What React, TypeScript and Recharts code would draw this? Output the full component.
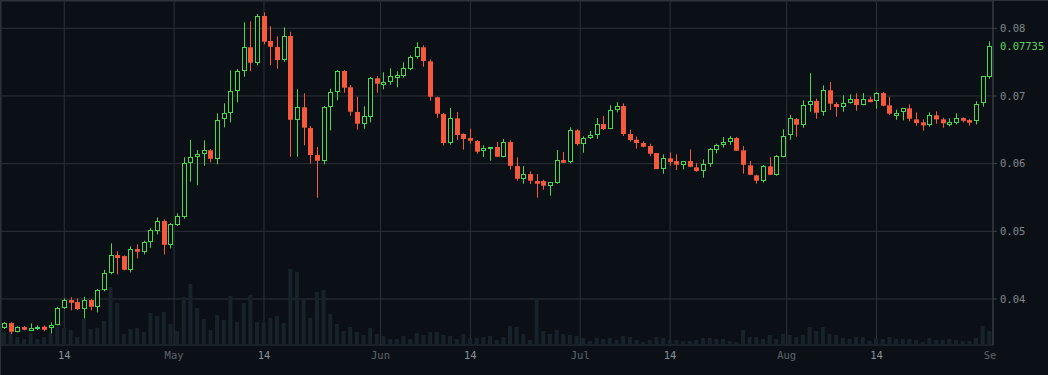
import { ComposedChart, Bar, XAxis, YAxis, CartesianGrid, ReferenceLine } from 'recharts';

// daily candles, Apr 5 .. Aug 31
const opens = [
  0.03566, 0.03644, 0.03516, 0.03585, 0.03530, 0.03551, 0.03590, 0.03575, 0.03619, 0.03870,
  0.03984, 0.03954, 0.03855, 0.03984, 0.03885, 0.04137, 0.04387, 0.04649, 0.04634, 0.04431,
  0.04738, 0.04698, 0.04846, 0.05009, 0.05152, 0.04801, 0.05097, 0.05215, 0.06013, 0.06093,
  0.06137, 0.06197, 0.06072, 0.06654, 0.06743, 0.07077, 0.07373, 0.07719, 0.07491, 0.08182,
  0.07812, 0.07723, 0.07531, 0.07886, 0.06648, 0.06832, 0.06526, 0.06127, 0.06043, 0.06832,
  0.07063, 0.07369, 0.07128, 0.06763, 0.06590, 0.06693, 0.07261, 0.07166, 0.07211, 0.07270,
  0.07299, 0.07403, 0.07580, 0.07719, 0.07512, 0.06980, 0.06733, 0.06309, 0.06669, 0.06438,
  0.06378, 0.06334, 0.06182, 0.06211, 0.06246, 0.06102, 0.06319, 0.05964, 0.05777, 0.05846,
  0.05743, 0.05743, 0.05674, 0.05718, 0.06053, 0.06028, 0.06492, 0.06294, 0.06383, 0.06428,
  0.06585, 0.06516, 0.06792, 0.06851, 0.06438, 0.06353, 0.06305, 0.06260, 0.06157, 0.05925,
  0.06078, 0.06038, 0.05984, 0.06038, 0.05945, 0.05895, 0.05999, 0.06206, 0.06279, 0.06324,
  0.06378, 0.06197, 0.05975, 0.05827, 0.05748, 0.05959, 0.05836, 0.06105, 0.06418, 0.06659,
  0.06575, 0.06871, 0.06925, 0.06758, 0.07084, 0.06881, 0.06842, 0.06900, 0.06955, 0.06871,
  0.06950, 0.06930, 0.07043, 0.06862, 0.06708, 0.06758, 0.06817, 0.06654, 0.06610, 0.06575,
  0.06714, 0.06654, 0.06575, 0.06605, 0.06674, 0.06644, 0.06625, 0.06891, 0.07285,
];
const highs = [
  0.03658, 0.03658, 0.03596, 0.03600, 0.03639, 0.03610, 0.03610, 0.03654, 0.03885, 0.04009,
  0.04024, 0.04009, 0.04033, 0.03999, 0.04147, 0.04431, 0.04822, 0.04704, 0.04644, 0.04778,
  0.04808, 0.04861, 0.05048, 0.05206, 0.05177, 0.05122, 0.05265, 0.06093, 0.06349, 0.06201,
  0.06345, 0.06216, 0.06743, 0.06891, 0.07379, 0.07398, 0.08088, 0.08103, 0.08211, 0.08236,
  0.08029, 0.07881, 0.08014, 0.07949, 0.07098, 0.07039, 0.06556, 0.06246, 0.06851, 0.07107,
  0.07383, 0.07383, 0.07162, 0.06990, 0.06847, 0.07280, 0.07295, 0.07349, 0.07409, 0.07364,
  0.07497, 0.07601, 0.07793, 0.07748, 0.07541, 0.06990, 0.06748, 0.06822, 0.06763, 0.06448,
  0.06516, 0.06349, 0.06271, 0.06246, 0.06319, 0.06364, 0.06345, 0.06093, 0.05964, 0.05886,
  0.05846, 0.05762, 0.05723, 0.06201, 0.06172, 0.06536, 0.06507, 0.06403, 0.06482, 0.06674,
  0.06703, 0.06862, 0.06906, 0.06891, 0.06501, 0.06398, 0.06329, 0.06294, 0.06157, 0.06137,
  0.06167, 0.06137, 0.06034, 0.06211, 0.06009, 0.06063, 0.06230, 0.06294, 0.06393, 0.06408,
  0.06393, 0.06260, 0.06038, 0.05836, 0.05979, 0.06093, 0.06127, 0.06507, 0.06718, 0.06674,
  0.06936, 0.07335, 0.06960, 0.07157, 0.07206, 0.06910, 0.07009, 0.07024, 0.07039, 0.07043,
  0.06990, 0.07058, 0.07058, 0.06989, 0.06797, 0.06817, 0.06876, 0.06758, 0.06654, 0.06758,
  0.06773, 0.06678, 0.06669, 0.06743, 0.06684, 0.06659, 0.06921, 0.07290, 0.07808,
];
const lows = [
  0.03556, 0.03482, 0.03507, 0.03537, 0.03526, 0.03541, 0.03522, 0.03492, 0.03610, 0.03851,
  0.03832, 0.03836, 0.03713, 0.03832, 0.03802, 0.04113, 0.04364, 0.04364, 0.04423, 0.04393,
  0.04600, 0.04659, 0.04757, 0.04955, 0.04659, 0.04748, 0.05082, 0.05186, 0.05733, 0.05680,
  0.05969, 0.06019, 0.05990, 0.06536, 0.06610, 0.06906, 0.07284, 0.07364, 0.07453, 0.07763,
  0.07453, 0.07403, 0.07506, 0.06102, 0.06102, 0.06271, 0.05999, 0.05496, 0.05990, 0.06492,
  0.06936, 0.07048, 0.06708, 0.06501, 0.06516, 0.06610, 0.07048, 0.07098, 0.07166, 0.07128,
  0.07270, 0.07379, 0.07550, 0.07432, 0.06930, 0.06678, 0.06265, 0.06279, 0.06353, 0.06206,
  0.06294, 0.06146, 0.06098, 0.06043, 0.06098, 0.06093, 0.05910, 0.05748, 0.05703, 0.05699,
  0.05496, 0.05615, 0.05526, 0.05703, 0.06013, 0.06004, 0.06265, 0.06162, 0.06364, 0.06368,
  0.06497, 0.06511, 0.06758, 0.06408, 0.06324, 0.06221, 0.06241, 0.06108, 0.05920, 0.05851,
  0.05969, 0.05905, 0.05915, 0.05945, 0.05880, 0.05792, 0.05954, 0.06152, 0.06236, 0.06279,
  0.06186, 0.05851, 0.05831, 0.05703, 0.05718, 0.05831, 0.05821, 0.06093, 0.06353, 0.06398,
  0.06531, 0.06767, 0.06664, 0.06708, 0.06792, 0.06693, 0.06767, 0.06886, 0.06782, 0.06862,
  0.06910, 0.06811, 0.06847, 0.06718, 0.06649, 0.06640, 0.06625, 0.06560, 0.06487, 0.06546,
  0.06590, 0.06531, 0.06551, 0.06580, 0.06610, 0.06560, 0.06580, 0.06842, 0.07255,
];
const closes = [
  0.03639, 0.03516, 0.03581, 0.03545, 0.03566, 0.03585, 0.03545, 0.03615, 0.03861, 0.03980,
  0.03944, 0.03851, 0.03980, 0.03885, 0.04128, 0.04378, 0.04644, 0.04605, 0.04431, 0.04738,
  0.04698, 0.04837, 0.05019, 0.05147, 0.04801, 0.05102, 0.05221, 0.06004, 0.06093, 0.06142,
  0.06197, 0.06072, 0.06640, 0.06743, 0.07073, 0.07369, 0.07719, 0.07491, 0.08182, 0.07802,
  0.07728, 0.07531, 0.07881, 0.06648, 0.06832, 0.06531, 0.06127, 0.06043, 0.06832, 0.07054,
  0.07369, 0.07122, 0.06767, 0.06590, 0.06699, 0.07261, 0.07181, 0.07202, 0.07290, 0.07305,
  0.07409, 0.07571, 0.07719, 0.07516, 0.06989, 0.06738, 0.06305, 0.06669, 0.06423, 0.06364,
  0.06339, 0.06176, 0.06226, 0.06246, 0.06102, 0.06319, 0.05969, 0.05777, 0.05842, 0.05748,
  0.05703, 0.05674, 0.05723, 0.06049, 0.06013, 0.06492, 0.06290, 0.06378, 0.06423, 0.06585,
  0.06511, 0.06788, 0.06847, 0.06438, 0.06349, 0.06305, 0.06250, 0.06146, 0.05920, 0.06078,
  0.06024, 0.05984, 0.06034, 0.05954, 0.05891, 0.05990, 0.06211, 0.06271, 0.06319, 0.06378,
  0.06191, 0.05984, 0.05836, 0.05748, 0.05959, 0.05836, 0.06108, 0.06415, 0.06669, 0.06575,
  0.06862, 0.06921, 0.06752, 0.07084, 0.06886, 0.06837, 0.06891, 0.06950, 0.06866, 0.06950,
  0.06910, 0.07039, 0.06856, 0.06738, 0.06748, 0.06817, 0.06664, 0.06600, 0.06565, 0.06714,
  0.06654, 0.06596, 0.06610, 0.06669, 0.06634, 0.06605, 0.06876, 0.07290, 0.07735,
];
// volume, millions
const volumes = [
  13, 13, 8, 6, 12, 6, 8, 12, 18, 17,
  15, 8, 26, 16, 17, 24, 58, 42, 11, 16,
  17, 13, 32, 29, 33, 21, 14, 48, 61, 37,
  26, 15, 30, 25, 49, 23, 42, 50, 23, 22,
  27, 29, 22, 76, 73, 45, 27, 53, 55, 31,
  21, 14, 18, 13, 10, 17, 11, 9, 6, 6,
  9, 6, 12, 10, 13, 13, 10, 9, 6, 11,
  7, 7, 8, 9, 5, 8, 19, 18, 11, 5,
  47, 14, 11, 15, 11, 10, 9, 7, 4, 7,
  6, 7, 5, 9, 8, 5, 3, 5, 8, 7,
  5, 5, 4, 4, 5, 7, 7, 6, 6, 4,
  3, 15, 8, 8, 6, 10, 6, 11, 10, 8,
  10, 18, 14, 18, 11, 10, 7, 6, 8, 8,
  4, 7, 6, 8, 6, 6, 6, 5, 3, 7,
  5, 5, 6, 5, 4, 4, 7, 19, 14,
];

// time-scale marks (bar index) and their labels
const tickIndex = [9, 25.5, 39, 56.5, 70, 86.5, 100, 117.5, 131, 148.5];
const tickLabels = ['14', 'May', '14', 'Jun', '14', 'Jul', '14', 'Aug', '14', 'Se'];
const priceTicks = [0.04, 0.05, 0.06, 0.07, 0.08];

const BG = '#0b1016';
const UP = '#4fd64f';
const DOWN = '#f6593b';
const VOL = '#17222a';
const GRID = '#2c3237';
const MONO = "'DejaVu Sans Mono', monospace";

const START = new Date(2024, 3, 5);
const data = closes.map((close, i) => {
  const d = new Date(START);
  d.setDate(d.getDate() + i);
  return {
    i,
    date: d.toDateString(),
    open: opens[i],
    high: highs[i],
    low: lows[i],
    close,
    range: [lows[i], highs[i]],
    volume: volumes[i],
  };
});
const lastPrice = closes[closes.length - 1];

function Candle(props: any) {
  const { x, y, width, height, payload } = props;
  if (!payload) return null;
  const { open, close, high, low } = payload;
  const span = high - low;
  const yOf = (v: number) => (span > 0 ? y + ((high - v) / span) * height : y);
  const cx = Math.floor(x + width / 2) + 0.5;
  const yHigh = yOf(high);
  const yLow = yOf(low);
  const yTop = yOf(Math.max(open, close));
  const yBot = yOf(Math.min(open, close));

  if (close >= open) {
    const top = Math.round(yTop) + 0.5;
    const bot = Math.max(Math.round(yBot) - 0.5, top + 1);
    return (
      <g>
        <line x1={cx} x2={cx} y1={yHigh} y2={top} stroke={UP} />
        <line x1={cx} x2={cx} y1={bot} y2={yLow} stroke={UP} />
        <rect x={cx - 2} y={top} width={4} height={bot - top} fill={BG} stroke={UP} strokeWidth={1} />
      </g>
    );
  }
  return (
    <g>
      <line x1={cx} x2={cx} y1={yHigh} y2={yLow} stroke={DOWN} />
      <rect x={cx - width / 2} y={yTop} width={width} height={Math.max(yBot - yTop, 1.5)} fill={DOWN} />
    </g>
  );
}

function TimeTick(props: any) {
  const { x, y, payload } = props;
  const k = tickIndex.indexOf(payload.value);
  const label = tickLabels[k] ?? '';
  const isMonth = label !== '14';
  const last = k === tickIndex.length - 1;
  return (
    <text
      x={last ? x - 3 : x}
      y={y + 14}
      textAnchor="middle"
      fill={isMonth ? '#5d646a' : '#899096'}
      fontSize={10.5}
      fontFamily={MONO}
    >
      {label}
    </text>
  );
}

export default function App() {
  return (
    <div
      style={{
        width: 1048,
        height: 375,
        boxSizing: 'border-box',
        background: BG,
        borderTop: `1px solid ${GRID}`,
        borderLeft: `1px solid ${GRID}`,
      }}
    >
      <style>{`body{margin:0;background:${BG}}`}</style>
      <ComposedChart width={1047} height={374} data={data} margin={{ top: 0, right: 0, bottom: 0, left: 0 }}>
        <CartesianGrid stroke={GRID} />
        <XAxis
          xAxisId={0}
          dataKey="i"
          type="number"
          domain={[-0.5, 148.5]}
          allowDataOverflow
          ticks={tickIndex}
          interval={0}
          tick={<TimeTick />}
          tickLine={false}
          axisLine={false}
          tickSize={0}
          tickMargin={0}
          height={30}
        />
        <XAxis xAxisId="vx" dataKey="i" type="category" hide />
        <XAxis xAxisId="cx" dataKey="i" type="category" hide />
        <YAxis
          yAxisId={0}
          orientation="right"
          width={55}
          type="number"
          domain={[0.033203, 0.084034]}
          allowDataOverflow
          ticks={priceTicks}
          tickFormatter={(v: number) => v.toFixed(2)}
          axisLine={{ stroke: '#3a4046' }}
          tickLine={{ stroke: '#3a4046' }}
          tickSize={4}
          tickMargin={3}
          tick={{ fill: '#80878d', fontSize: 10.5, fontFamily: MONO }}
        />
        <YAxis yAxisId="v" hide domain={[0, 344]} allowDataOverflow />
        <Bar xAxisId="vx" yAxisId="v" dataKey="volume" fill={VOL} barSize={4} isAnimationActive={false} />
        <Bar
          xAxisId="cx"
          yAxisId={0}
          dataKey="range"
          barSize={5}
          shape={<Candle />}
          isAnimationActive={false}
        />
        <ReferenceLine
          xAxisId={0}
          yAxisId={0}
          y={lastPrice}
          stroke="none"
          label={{ value: lastPrice.toFixed(5), position: 'right', offset: 7, fill: '#5ed35e', fontSize: 10.5, fontFamily: MONO }}
        />
      </ComposedChart>
    </div>
  );
}
